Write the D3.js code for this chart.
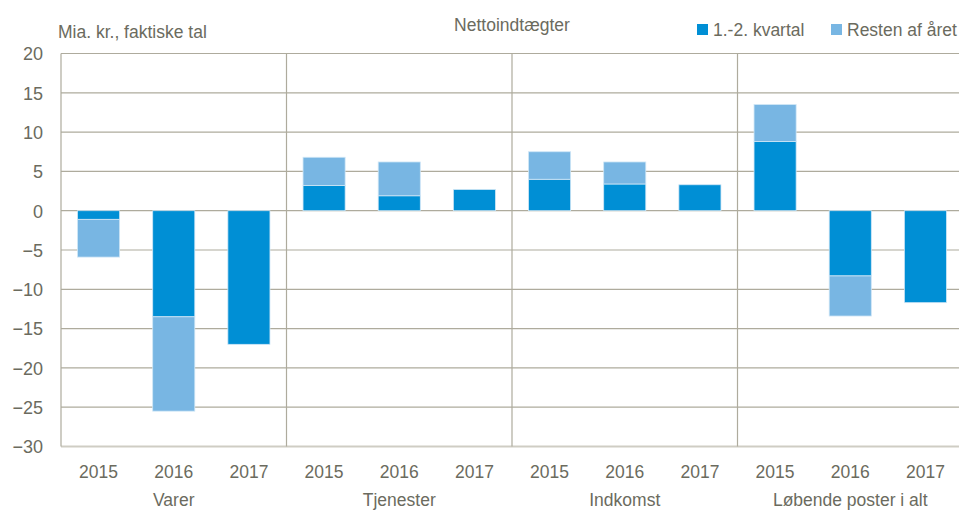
<!DOCTYPE html>
<html><head><meta charset="utf-8">
<script src="https://cdn.jsdelivr.net/npm/d3@7"></script>
<style>body{margin:0;background:#fff}svg text{font-family:"Liberation Sans",Arial,sans-serif;fill:#6b6b5e}</style>
</head><body><svg id="c" width="959" height="512"></svg>
<script>
const groups = ["Varer","Tjenester","Indkomst","Løbende poster i alt"];
const years = ["2015","2016","2017"];
const seriesNames = ["1.-2. kvartal","Resten af året"];
const q12 =   [-1.1,-13.5,-17.0, 3.2,1.9,2.7, 4.0,3.4,3.3, 8.8,-8.3,-11.7];
const resten = [-4.8,-12.0,0, 3.6,4.3,0, 3.5,2.8,0, 4.7,-5.1,0];
const yTicks = [20,15,10,5,0,-5,-10,-15,-20,-25,-30];
const colors = ["#008fd5","#78b6e3"];

const svg = d3.select("#c");
const L=61, R=963, T=53.5, B=446.5;
const cats = [];
groups.forEach((g,gi)=>years.forEach((y,yi)=>cats.push({key:gi+"-"+y,group:g,year:y,gi})));
const data = cats.map((c,i)=>({key:c.key,a:q12[i],b:resten[i]}));

const x = d3.scaleBand().domain(cats.map(c=>c.key)).range([L,R]).paddingInner(0.44).paddingOuter(0.22);
const y = d3.scaleLinear().domain([-30,20]).range([B,T]);

const grid="#aeab9d";
svg.append("g").selectAll("line").data(yTicks).join("line")
 .attr("x1",L).attr("x2",R).attr("y1",d=>y(d)).attr("y2",d=>y(d))
 .attr("stroke",d=>d===-30?"#cfcdc4":grid).attr("stroke-width",d=>d===-30?2:1.2);
const gw=(R-L)/4;
svg.append("g").selectAll("line").data([0,1,2,3]).join("line")
 .attr("x1",d=>L+d*gw).attr("x2",d=>L+d*gw).attr("y1",T).attr("y2",B)
 .attr("stroke",grid).attr("stroke-width",1.2);

const stack = d3.stack().keys(["a","b"]).offset(d3.stackOffsetDiverging);
const st = stack(data);
svg.append("g").selectAll("g").data(st).join("g").attr("fill",(d,i)=>colors[i])
 .selectAll("rect").data(d=>d).join("rect")
 .attr("x",d=>x(d.data.key)).attr("width",x.bandwidth())
 .attr("y",d=>y(Math.max(d[0],d[1]))).attr("height",d=>Math.abs(y(d[0])-y(d[1])))
 .attr("stroke","#cfe6f6").attr("stroke-width",0.8);

const yAxis = d3.axisLeft(y).tickValues(yTicks).tickSize(0).tickPadding(0);
const ya = svg.append("g").attr("transform",`translate(${43},0)`).call(yAxis);
ya.select(".domain").remove();
ya.selectAll("text").attr("font-size",18).attr("fill","#6b6b5e").style("font-family",'"Liberation Sans",Arial,sans-serif').attr("dy","0.35em");

const xAxis = d3.axisBottom(x).tickSize(0).tickPadding(0).tickFormat(k=>k.split("-")[1]);
const xa = svg.append("g").attr("transform",`translate(0,${466})`).call(xAxis);
xa.select(".domain").remove();
xa.selectAll("text").attr("font-size",17.5).attr("fill","#6b6b5e").style("font-family",'"Liberation Sans",Arial,sans-serif').attr("dy","0.71em");

svg.append("g").selectAll("text").data(groups).join("text")
 .attr("x",(d,i)=>L+gw*i+gw/2).attr("y",506).attr("text-anchor","middle").attr("font-size",17.5).text(d=>d);

svg.append("text").attr("x",58).attr("y",38).attr("font-size",17.5).text("Mia. kr., faktiske tal");
svg.append("text").attr("x",512).attr("y",31).attr("text-anchor","middle").attr("font-size",17.5).text("Nettoindtægter");

const lg = svg.append("g");
const lx=[697,831];
seriesNames.forEach((n,i)=>{
  lg.append("rect").attr("x",lx[i]).attr("y",24).attr("width",11).attr("height",11).attr("fill",colors[i]);
  lg.append("text").attr("x",lx[i]+16).attr("y",36).attr("font-size",17.5).text(n);
});
</script></body></html>
